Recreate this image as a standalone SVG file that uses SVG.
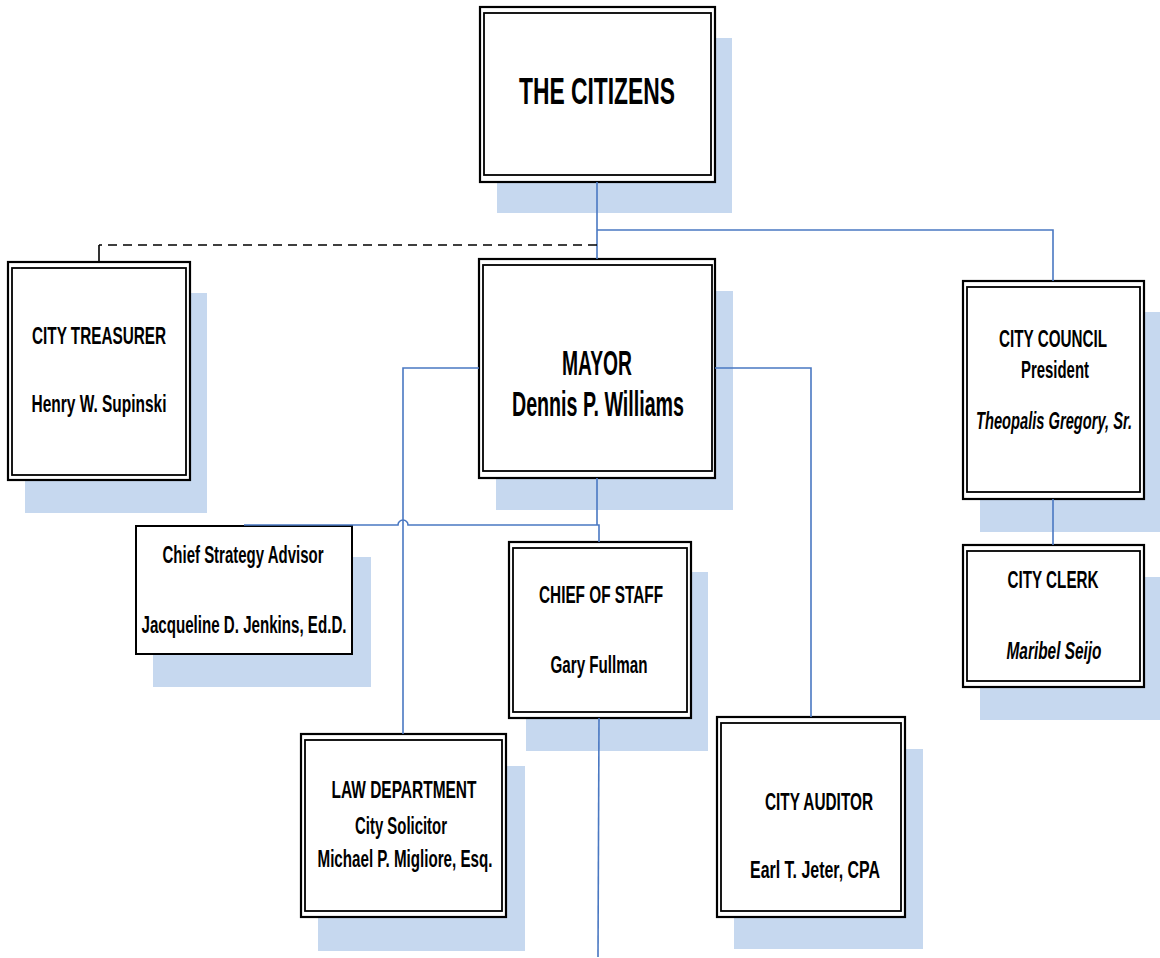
<svg xmlns="http://www.w3.org/2000/svg" width="1160" height="958" viewBox="0 0 1160 958">
<style>
.bg{fill:#ffffff}
.sh{fill:#C6D8EF}
.bo{fill:#ffffff;stroke:#000;stroke-width:2.2}
.bi{fill:none;stroke:#000;stroke-width:1.8}
.bs{fill:#ffffff;stroke:#000;stroke-width:2}
.t{font-family:"Liberation Sans Narrow","Liberation Sans",Arial,sans-serif;font-weight:bold;fill:#000;text-anchor:middle}
.i{font-style:italic}
.c{fill:none;stroke:#4A78C2;stroke-width:1.6}
.d{fill:none;stroke:#000;stroke-width:1.6;stroke-dasharray:9 6}
.k{fill:none;stroke:#000;stroke-width:1.6}
</style>
<rect class="bg" x="0" y="0" width="1160" height="958"/>

<g id="citizens">
<rect class="sh" x="497" y="38" width="235" height="175"/>
<rect class="bo" x="480" y="7" width="235" height="175"/>
<rect class="bi" x="484" y="13" width="227" height="162"/>
<text class="t" x="597" y="104" font-size="37" textLength="156" lengthAdjust="spacingAndGlyphs">THE CITIZENS</text>
</g>

<g id="treasurer">
<rect class="sh" x="25" y="293" width="182" height="220"/>
<rect class="bo" x="8" y="262" width="182" height="218"/>
<rect class="bi" x="12" y="268" width="174" height="207"/>
<text class="t" x="99" y="344" font-size="24" textLength="134" lengthAdjust="spacingAndGlyphs">CITY TREASURER</text>
<text class="t" x="99" y="412" font-size="24" textLength="135" lengthAdjust="spacingAndGlyphs">Henry W. Supinski</text>
</g>

<g id="mayor">
<rect class="sh" x="496" y="291" width="237" height="219"/>
<rect class="bo" x="479" y="259" width="236" height="219"/>
<rect class="bi" x="483" y="265" width="229" height="206"/>
<text class="t" x="597" y="375" font-size="35" textLength="70" lengthAdjust="spacingAndGlyphs">MAYOR</text>
<text class="t" x="598" y="416" font-size="35" textLength="172" lengthAdjust="spacingAndGlyphs">Dennis P. Williams</text>
</g>

<g id="council">
<rect class="sh" x="980" y="312" width="180" height="220"/>
<rect class="bo" x="963" y="281" width="181" height="218"/>
<rect class="bi" x="967" y="287" width="173" height="205"/>
<text class="t" x="1053" y="347" font-size="24" textLength="108" lengthAdjust="spacingAndGlyphs">CITY COUNCIL</text>
<text class="t" x="1055" y="378" font-size="24" textLength="68" lengthAdjust="spacingAndGlyphs">President</text>
<text class="t i" x="1054" y="429" font-size="24" textLength="156" lengthAdjust="spacingAndGlyphs">Theopalis Gregory, Sr.</text>
</g>

<g id="clerk">
<rect class="sh" x="980" y="577" width="180" height="143"/>
<rect class="bo" x="963" y="545" width="181" height="142"/>
<rect class="bi" x="967" y="551" width="173" height="130"/>
<text class="t" x="1053" y="588" font-size="24" textLength="91" lengthAdjust="spacingAndGlyphs">CITY CLERK</text>
<text class="t i" x="1054" y="659" font-size="24" textLength="95" lengthAdjust="spacingAndGlyphs">Maribel Seijo</text>
</g>

<g id="strategy">
<rect class="sh" x="153" y="557" width="218" height="130"/>
<rect class="bs" x="136" y="526" width="216" height="128"/>
<text class="t" x="243" y="563" font-size="24" textLength="161" lengthAdjust="spacingAndGlyphs">Chief Strategy Advisor</text>
<text class="t" x="244" y="633" font-size="24" textLength="205" lengthAdjust="spacingAndGlyphs">Jacqueline D. Jenkins, Ed.D.</text>
</g>

<g id="staff">
<rect class="sh" x="526" y="572" width="182" height="179"/>
<rect class="bo" x="509" y="542" width="182" height="176"/>
<rect class="bi" x="513" y="548" width="174" height="164"/>
<text class="t" x="601" y="603" font-size="24" textLength="124" lengthAdjust="spacingAndGlyphs">CHIEF OF STAFF</text>
<text class="t" x="599" y="673" font-size="24" textLength="97" lengthAdjust="spacingAndGlyphs">Gary Fullman</text>
</g>

<g id="law">
<rect class="sh" x="318" y="766" width="207" height="185"/>
<rect class="bo" x="301" y="734" width="205" height="183"/>
<rect class="bi" x="305" y="740" width="197" height="171"/>
<text class="t" x="404" y="798" font-size="24" textLength="145" lengthAdjust="spacingAndGlyphs">LAW DEPARTMENT</text>
<text class="t" x="401" y="834" font-size="24" textLength="92" lengthAdjust="spacingAndGlyphs">City Solicitor</text>
<text class="t" x="405" y="867" font-size="24" textLength="175" lengthAdjust="spacingAndGlyphs">Michael P. Migliore, Esq.</text>
</g>

<g id="auditor">
<rect class="sh" x="734" y="749" width="189" height="200"/>
<rect class="bo" x="717" y="717" width="188" height="200"/>
<rect class="bi" x="721" y="723" width="180" height="188"/>
<text class="t" x="819" y="810" font-size="24" textLength="108" lengthAdjust="spacingAndGlyphs">CITY AUDITOR</text>
<text class="t" x="815" y="878" font-size="24" textLength="130" lengthAdjust="spacingAndGlyphs">Earl T. Jeter, CPA</text>
</g>

<g id="connectors">
<path class="c" d="M597,182 V259"/>
<path class="c" d="M597,230 H1053 V281"/>
<path class="d" d="M597,245 H99"/>
<path class="k" d="M99,245 V262"/>
<path class="c" d="M479,368 H403 V734"/>
<path class="c" d="M715,368 H811 V717"/>
<path class="c" d="M597,478 V525"/>
<path class="c" d="M244,525 H398 A5,5 0 0 1 408,525 H599 V542"/>
<path class="c" d="M599,718 L598,957"/>
<path class="c" d="M1053,499 V545"/>
</g>
</svg>
